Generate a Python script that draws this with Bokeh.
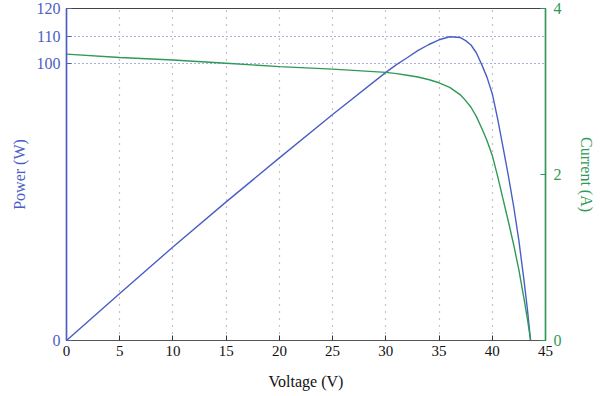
from bokeh.plotting import figure
from bokeh.models import LinearAxis, Range1d, FixedTicker
from bokeh.embed import file_html
from bokeh.resources import INLINE

# Data
voltage_i = [0, 5, 10, 15, 20, 25, 30, 31, 32, 33, 34, 35, 36, 37, 37.5, 38, 38.5, 39, 39.5, 40, 40.5, 41, 41.5, 42, 42.5, 43, 43.3, 43.6]
current_a = [3.45, 3.41, 3.38, 3.34, 3.30, 3.27, 3.23, 3.215, 3.195, 3.175, 3.145, 3.105, 3.05, 2.96, 2.89, 2.81, 2.70, 2.56, 2.41, 2.23, 1.98, 1.71, 1.44, 1.16, 0.85, 0.49, 0.26, 0.0]

voltage_p = [0, 5, 10, 15, 20, 25, 30, 31, 32, 33, 34, 35, 36, 37, 37.5, 38, 38.5, 39, 39.5, 40, 40.5, 41, 41.5, 42, 42.5, 43, 43.3, 43.6]
power_w = [0, 17.0, 33.8, 50.1, 66.0, 81.7, 96.9, 99.7, 102.2, 104.8, 106.9, 108.7, 109.8, 109.5, 108.4, 106.8, 104.0, 99.8, 95.2, 89.2, 80.2, 70.1, 59.8, 48.7, 36.1, 21.1, 11.3, 0.0]

x_ticks = [0, 5, 10, 15, 20, 25, 30, 35, 40, 45]
power_ticks = [0, 100, 110, 120]
current_ticks = [0, 2, 4]

BLUE = "#4a5fc4"
GREEN = "#2f9a56"
FONT = "Liberation Serif"

p = figure(frame_width=479, frame_height=332, x_range=Range1d(0, 45), y_range=Range1d(0, 120),
           output_backend="svg", toolbar_location=None,
           min_border_left=66, min_border_right=10, min_border_top=8, min_border_bottom=10)
p.extra_y_ranges = {"cur": Range1d(0, 4)}

p.outline_line_color = "#444444"
p.outline_line_width = 1.2

# x axis
xa = p.xaxis[0]
xa.ticker = FixedTicker(ticks=x_ticks)
xa.axis_label = "Voltage (V)"
xa.axis_line_color = "#555555"
xa.major_tick_in = 5
xa.major_tick_out = 0
xa.minor_tick_line_color = None
xa.major_tick_line_color = "#333333"
xa.major_label_text_font = FONT
xa.major_label_text_font_size = "15px"
xa.major_label_text_color = "#111111"
xa.axis_label_text_font = FONT
xa.axis_label_text_font_size = "16px"
xa.axis_label_text_font_style = "normal"
xa.axis_label_text_color = "#111111"
xa.major_label_standoff = 5
xa.axis_label_standoff = 14

# left axis
ya = p.yaxis[0]
ya.ticker = FixedTicker(ticks=power_ticks)
ya.axis_label = "Power (W)"
ya.axis_line_color = BLUE
ya.axis_line_width = 1.5
ya.major_tick_in = 5
ya.major_tick_out = 0
ya.minor_tick_line_color = None
ya.major_tick_line_color = BLUE
ya.major_label_text_font = FONT
ya.major_label_text_font_size = "16px"
ya.major_label_text_color = BLUE
ya.axis_label_text_font = FONT
ya.axis_label_text_font_size = "16px"
ya.axis_label_text_font_style = "normal"
ya.axis_label_text_color = BLUE
ya.major_label_standoff = 6
ya.axis_label_standoff = 6

# right axis
ra = LinearAxis(y_range_name="cur", ticker=FixedTicker(ticks=current_ticks))
ra.axis_label = "Current (A)"
ra.axis_line_color = GREEN
ra.axis_line_width = 1.5
ra.major_tick_in = 5
ra.major_tick_out = 0
ra.minor_tick_line_color = None
ra.major_tick_line_color = GREEN
ra.major_label_text_font = FONT
ra.major_label_text_font_size = "16px"
ra.major_label_text_color = GREEN
ra.axis_label_text_font = FONT
ra.axis_label_text_font_size = "16px"
ra.axis_label_text_font_style = "normal"
ra.axis_label_text_color = GREEN
ra.major_label_standoff = 8
ra.axis_label_standoff = 13
p.add_layout(ra, "right")

# grids
p.xgrid.ticker = FixedTicker(ticks=x_ticks)
p.xgrid.grid_line_color = "#8a8a8a"
p.xgrid.grid_line_dash = "1 6"
p.xgrid.grid_line_width = 1.2
p.ygrid.ticker = FixedTicker(ticks=power_ticks)
p.ygrid.grid_line_color = BLUE
p.ygrid.grid_line_dash = "1 3"
p.ygrid.grid_line_width = 1.2

p.line(voltage_p, power_w, line_color=BLUE, line_width=1.4)
p.line(voltage_i, current_a, line_color=GREEN, line_width=1.4, y_range_name="cur")

open("out.html", "w").write(file_html(p, INLINE))
